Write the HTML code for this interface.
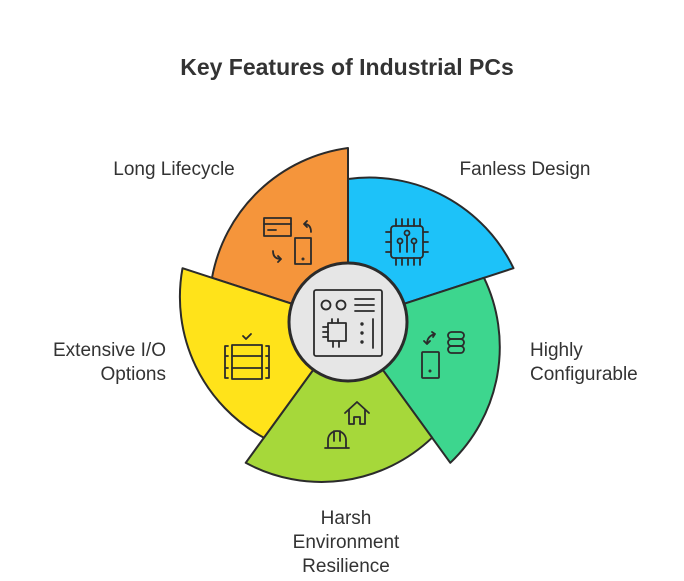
<!DOCTYPE html>
<html><head><meta charset="utf-8"><style>
html,body{margin:0;padding:0;background:#fff;width:684px;height:581px;overflow:hidden}
svg text{font-family:"Liberation Sans",sans-serif;fill:#333}
</style></head><body>
<svg width="684" height="581" viewBox="0 0 684 581" xmlns="http://www.w3.org/2000/svg">
<text x="347" y="75" text-anchor="middle" font-size="23" font-weight="bold" fill="#2b2b2b">Key Features of Industrial PCs</text>
<g font-size="19">
<text x="174" y="175" text-anchor="middle">Long Lifecycle</text>
<text x="525" y="175" text-anchor="middle">Fanless Design</text>
<text x="530" y="356">Highly</text>
<text x="530" y="380">Configurable</text>
<text x="166" y="356" text-anchor="end">Extensive I/O</text>
<text x="166" y="380" text-anchor="end">Options</text>
<text x="346" y="524" text-anchor="middle">Harsh</text>
<text x="346" y="548" text-anchor="middle">Environment</text>
<text x="346" y="572" text-anchor="middle">Resilience</text>
</g>
<g stroke="#2b2b2b" stroke-width="2" stroke-linejoin="round">
<path d="M348 322 L212 277.8 A160 160 0 0 1 348 148 Z" fill="#F5953B"/>
<path d="M348 322 L348 179 A160 160 0 0 1 513.5 268.2 Z" fill="#1DC2F9"/>
<path d="M348 322 L484 277.8 A160 160 0 0 1 450.3 462.8 Z" fill="#3DD68E"/>
<path d="M348 322 L432.1 437.7 A160 160 0 0 1 245.7 462.8 Z" fill="#A6D83A"/>
<path d="M348 322 L263.9 437.7 A160 160 0 0 1 182.5 268.2 Z" fill="#FFE31A"/>
<circle cx="348" cy="322" r="59" fill="#E6E6E6" stroke-width="3"/>
</g>
<g fill="none" stroke="#2b2b2b" stroke-width="1.8" stroke-linecap="round" stroke-linejoin="round">
<rect x="314" y="290" width="68" height="66" rx="2"/>
<circle cx="326" cy="305" r="4.5"/><circle cx="341" cy="305" r="4.5"/>
<line x1="355" y1="299" x2="374" y2="299"/><line x1="355" y1="305" x2="374" y2="305"/><line x1="355" y1="311" x2="374" y2="311"/>
<rect x="328" y="323" width="18" height="18"/>
<path d="M323 327h5M323 332h5M323 337h5M333 341v6M339 341v6M332 323v-4M338 323v-4"/>
<circle cx="362" cy="324" r="0.8"/><circle cx="362" cy="333" r="0.8"/><circle cx="362" cy="342" r="0.8"/>
<line x1="373" y1="319" x2="373" y2="348"/>
<rect x="264" y="218" width="27" height="18"/><line x1="264" y1="224" x2="291" y2="224"/><line x1="268" y1="230" x2="276" y2="230"/>
<rect x="295" y="238" width="16" height="26"/><circle cx="303" cy="259" r="0.6"/>
<path d="M311 232 q0 -8 -7 -8 M304 224 l3 -3 M304 224 l3 3"/>
<path d="M273 251 q0 8 8 8 M281 259 l-3 -3 M281 259 l-3 3"/>
<rect x="391" y="226" width="32" height="32" rx="3"/>
<path d="M396 226v-7M402 226v-7M408 226v-7M414 226v-7M420 226v-7M396 258v7M402 258v7M408 258v7M414 258v7M420 258v7M391 232h-5M391 242h-5M391 252h-5M423 232h5M423 242h5M423 252h5"/>
<circle cx="400" cy="241" r="2.5"/><circle cx="407" cy="233" r="2.5"/><circle cx="414" cy="241" r="2.5"/>
<path d="M400 244v8M407 236v16M414 244v8"/>
<rect x="422" y="352" width="17" height="26" rx="1"/><circle cx="430" cy="371" r="0.6"/>
<path d="M427 344 q0 -8 8 -10 M435 334 l-3 -2 M435 334 l-2 3 M427 344 l-3 -3 M427 344 l3 -3"/>
<rect x="448" y="332" width="16" height="7" rx="3.5"/><rect x="448" y="339" width="16" height="7" rx="3.5"/><rect x="448" y="346" width="16" height="7" rx="3.5"/>
<path d="M345 413 l12 -11 l12 11 M349 410 v14 h5 v-7 h6 v7 h5 v-14"/>
<path d="M325 448 h24 M328 448 v-8 a9 9 0 0 1 18 0 v8 M334 431 v10 M340 431 v10"/>
<rect x="232" y="345" width="30" height="34"/>
<path d="M232 356h30M232 368h30M228 346h-3v32h3M228 356h-3M228 368h-3M266 346h3v32h-3M266 356h3M266 368h3"/>
<path d="M243 336 l3 3 l5 -5"/>
</g>
</svg>
</body></html>
